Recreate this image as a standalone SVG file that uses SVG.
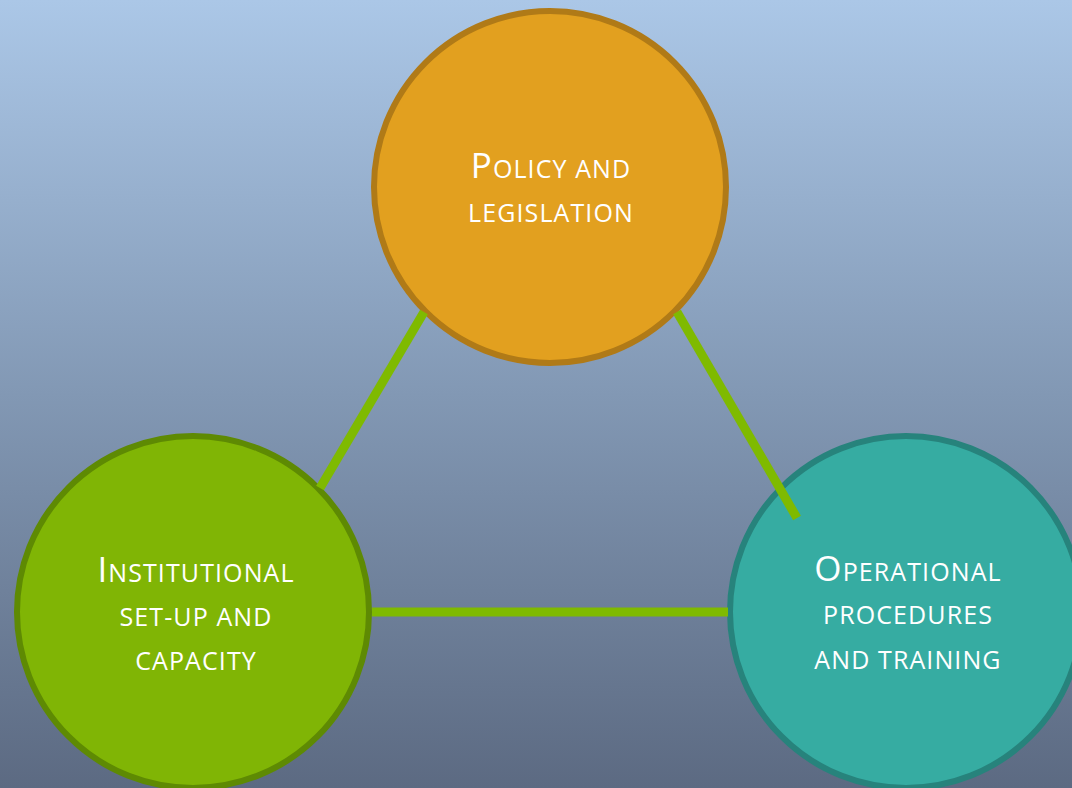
<svg xmlns="http://www.w3.org/2000/svg" width="1072" height="788" viewBox="0 0 1072 788">
<defs>
<linearGradient id="bg" x1="0" y1="0" x2="0" y2="1">
<stop offset="0" stop-color="#abc7e7"/>
<stop offset="0.5" stop-color="#8298b4"/>
<stop offset="1" stop-color="#5c6a82"/>
</linearGradient>
<style>
.lbl{font-family:"Open Sans","DejaVu Sans",sans-serif;fill:#ffffff;font-size:25px;text-anchor:middle;letter-spacing:1.1px;}
.big{font-size:35px;}
.conn{stroke:#7fba00;stroke-width:9;fill:none;}
</style>
</defs>
<rect x="0" y="0" width="1072" height="788" fill="url(#bg)"/>
<g id="policy">
<circle cx="550" cy="187" r="176" fill="#e2a01f" stroke="#b07a17" stroke-width="6"/>
<text class="lbl" x="551" y="178"><tspan class="big">P</tspan>OLICY AND</text>
<text class="lbl" x="551" y="222">LEGISLATION</text>
</g>
<g id="institutional">
<circle cx="193" cy="612" r="176" fill="#80b505" stroke="#5e8a03" stroke-width="6"/>
<text class="lbl" x="196" y="582"><tspan class="big">I</tspan>NSTITUTIONAL</text>
<text class="lbl" x="196" y="626">SET-UP AND</text>
<text class="lbl" x="196" y="670">CAPACITY</text>
</g>
<g id="operational">
<circle cx="906" cy="612" r="176" fill="#36aca2" stroke="#27837c" stroke-width="6"/>
<text class="lbl" x="908" y="581"><tspan class="big">O</tspan>PERATIONAL</text>
<text class="lbl" x="908" y="624">PROCEDURES</text>
<text class="lbl" x="908" y="669">AND TRAINING</text>
</g>
<g id="connectors">
<line class="conn" x1="424" y1="312" x2="320" y2="488"/>
<line class="conn" x1="677" y1="312" x2="797" y2="518"/>
<line class="conn" x1="372" y1="612" x2="728" y2="612"/>
</g>
</svg>
